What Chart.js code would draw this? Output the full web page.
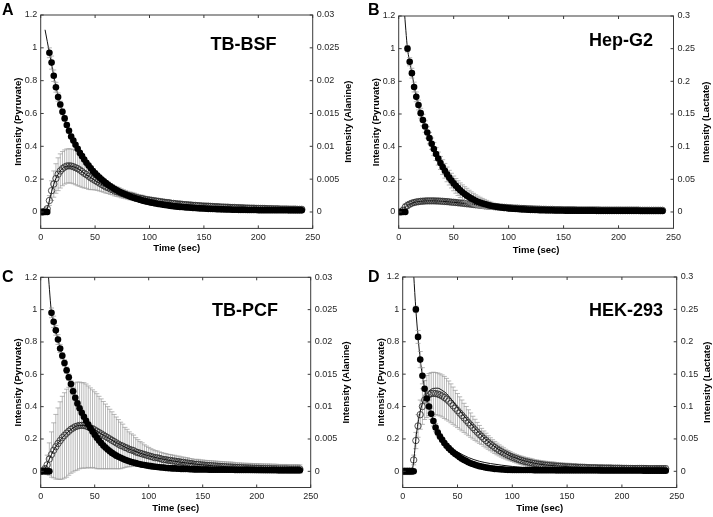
<!DOCTYPE html>
<html><head><meta charset="utf-8">
<script src="https://cdn.jsdelivr.net/npm/chart.js@4/dist/chart.umd.min.js"></script>
<style>
html,body{margin:0;padding:0;background:#fff}
body{width:713px;height:517px;position:relative;overflow:hidden;font-family:"Liberation Sans",Arial,Helvetica,sans-serif}
.pane{position:absolute}
.pane canvas{display:block}
.letter{position:absolute;font-weight:bold;font-size:16px;line-height:16px;color:#000}
</style></head>
<body>
<div class="pane" style="left:0;top:0"><canvas id="cA" width="356" height="258"></canvas></div>
<div class="pane" style="left:356px;top:0"><canvas id="cB" width="357" height="258"></canvas></div>
<div class="pane" style="left:0;top:258px"><canvas id="cC" width="356" height="259"></canvas></div>
<div class="pane" style="left:356px;top:258px"><canvas id="cD" width="357" height="259"></canvas></div>
<div class="letter" style="left:2px;top:1.5px">A</div>
<div class="letter" style="left:368px;top:1.5px">B</div>
<div class="letter" style="left:2px;top:269px">C</div>
<div class="letter" style="left:368px;top:269px">D</div>
<script>
// ---------- shared axes ----------
const TIME = [0,2,4,6,8,10,12,14,16,18,
20,22,24,26,28,30,32,34,36,38,
40,42,44,46,48,50,52,54,56,58,
60,62,64,66,68,70,72,74,76,78,
80,82,84,86,88,90,92,94,96,98,
100,102,104,106,108,110,112,114,116,118,
120,122,124,126,128,130,132,134,136,138,
140,142,144,146,148,150,152,154,156,158,
160,162,164,166,168,170,172,174,176,178,
180,182,184,186,188,190,192,194,196,198,
200,202,204,206,208,210,212,214,216,218,
220,222,224,226,228,230,232,234,236,238,
240];
const X_TICKS = [0,50,100,150,200,250];
const LEFT_TICKS = [0,0.2,0.4,0.6,0.8,1,1.2];
const RIGHT_TICKS_ALANINE = [0,0.005,0.01,0.015,0.02,0.025,0.03];
const RIGHT_TICKS_LACTATE = [0,0.05,0.1,0.15,0.2,0.25,0.3];

// ---------- A: TB-BSF ----------
const A_PYRUVATE = [0,0,0,0,0.97,0.91,0.83,0.76,0.70,0.655,
0.61,0.57,0.53,0.495,0.46,0.435,0.41,0.385,0.36,0.34,
0.32,0.30,0.283,0.266,0.25,0.236,0.222,0.21,0.198,0.187,
0.176,0.166,0.157,0.148,0.14,0.132,0.125,0.118,0.112,0.106,
0.1,0.095,0.09,0.085,0.081,0.077,0.073,0.069,0.066,0.063,
0.06,0.057,0.054,0.052,0.049,0.047,0.045,0.043,0.041,0.039,
0.037,0.035,0.034,0.032,0.031,0.03,0.029,0.028,0.027,0.026,
0.025,0.024,0.023,0.022,0.021,0.021,0.02,0.019,0.019,0.018,
0.018,0.017,0.017,0.016,0.016,0.015,0.015,0.015,0.014,0.014,
0.014,0.013,0.013,0.013,0.013,0.012,0.012,0.012,0.012,0.012,
0.011,0.011,0.011,0.011,0.011,0.011,0.011,0.011,0.011,0.011,
0.011,0.011,0.011,0.011,0.01,0.01,0.01,0.01,0.01,0.01,
0.01];
const A_PYRUVATE_ERR = [0.005,0.005,0.005,0.005,0.03,0.04,0.035,0.03,0.025,0.02,
0.018,0.016,0.015,0.015,0.014,0.013,0.012,0.012,0.011,0.011,
0.01,0.01,0.01,0.01,0.01,0.01,0.01,0.01,0.01,0.01,
0.009,0.009,0.009,0.009,0.009,0.009,0.009,0.009,0.009,0.009,
0.008,0.008,0.008,0.008,0.008,0.008,0.008,0.008,0.008,0.008,
0.007,0.007,0.007,0.007,0.007,0.007,0.007,0.007,0.007,0.007,
0.006,0.006,0.006,0.006,0.006,0.006,0.006,0.006,0.006,0.006,
0.005,0.005,0.005,0.005,0.005,0.005,0.005,0.005,0.005,0.005,
0.005,0.005,0.005,0.005,0.005,0.005,0.005,0.005,0.005,0.005,
0.005,0.005,0.005,0.005,0.005,0.005,0.005,0.005,0.005,0.005,
0.005,0.005,0.005,0.005,0.005,0.005,0.005,0.005,0.005,0.005,
0.005,0.005,0.005,0.005,0.005,0.005,0.005,0.005,0.005,0.005,
0.005];
const A_ALANINE = [0,0,0.00013,0.0005,0.00175,0.00325,0.00425,0.0051,0.00575,0.00625,
0.0066,0.00685,0.007,0.00703,0.007,0.0069,0.00675,0.0066,0.0064,0.00615,
0.0059,0.0057,0.00545,0.0052,0.005,0.0048,0.0046,0.0044,0.0042,0.004,
0.0038,0.0037,0.0035,0.0034,0.0032,0.0031,0.003,0.00285,0.00275,0.00265,
0.00255,0.00245,0.0024,0.0023,0.0022,0.0021,0.00205,0.002,0.0019,0.00185,
0.0018,0.00175,0.0017,0.00165,0.0016,0.00155,0.0015,0.00145,0.0014,0.0014,
0.0013,0.0013,0.00125,0.0012,0.0012,0.00115,0.0011,0.0011,0.00105,0.00105,
0.001,0.001,0.00095,0.00095,0.0009,0.0009,0.00088,0.00088,0.00085,0.00083,
0.0008,0.0008,0.00078,0.00075,0.00075,0.00073,0.00073,0.0007,0.00068,0.00068,
0.00065,0.00065,0.00063,0.00063,0.0006,0.0006,0.00058,0.00058,0.00058,0.00055,
0.00055,0.00053,0.00053,0.00053,0.0005,0.0005,0.0005,0.00048,0.00048,0.00048,
0.00045,0.00045,0.00045,0.00045,0.00043,0.00043,0.00043,0.00043,0.0004,0.0004,
0.0004];
const A_ALANINE_ERR = [0.00013,0.00013,0.00013,0.00025,0.00075,0.0015,0.002,0.00225,0.0025,0.0026,
0.0026,0.0026,0.0026,0.0026,0.0026,0.0026,0.0026,0.0026,0.0025,0.0024,
0.00225,0.0021,0.002,0.0018,0.0016,0.00145,0.0013,0.0012,0.0011,0.001,
0.00093,0.00088,0.00083,0.00078,0.00075,0.00073,0.0007,0.00068,0.00065,0.00063,
0.0006,0.0006,0.00058,0.00058,0.00055,0.00055,0.00053,0.00053,0.0005,0.0005,
0.00048,0.00048,0.00048,0.00048,0.00048,0.00048,0.00048,0.00048,0.00048,0.00048,
0.00045,0.00045,0.00045,0.00045,0.00045,0.00045,0.00045,0.00045,0.00045,0.00045,
0.00043,0.00043,0.00043,0.00043,0.00043,0.00043,0.00043,0.00043,0.00043,0.00043,
0.0004,0.0004,0.0004,0.0004,0.0004,0.0004,0.0004,0.0004,0.0004,0.0004,
0.0004,0.0004,0.0004,0.0004,0.0004,0.0004,0.0004,0.0004,0.0004,0.0004,
0.00038,0.00038,0.00038,0.00038,0.00038,0.00038,0.00038,0.00038,0.00038,0.00038,
0.00038,0.00038,0.00038,0.00038,0.00038,0.00038,0.00038,0.00038,0.00038,0.00038,
0.00035];
const A_FIT_PYRUVATE_T = [4,6,8,10,12,14,16,20,24,30,40,50,60,80,100,130,170,240];
const A_FIT_PYRUVATE = [1.11,1.04,0.97,0.9,0.83,0.765,0.705,0.61,0.53,0.435,0.32,0.236,0.176,0.1,0.06,0.03,0.015,0.01];
const A_FIT_ALANINE_T = [0,4,6,8,10,12,14,18,22,26,30,36,40,50,60,80,100,140,180,240];
const A_FIT_ALANINE = [0,0,0.0005,0.00175,0.0031,0.0042,0.0051,0.00625,0.00685,0.007,0.0069,0.0064,0.0059,0.0048,0.0038,0.00255,0.0018,0.001,0.00065,0.0004];

// ---------- B: Hep-G2 ----------
const B_PYRUVATE = [0,0,0,0,1.0,0.92,0.85,0.765,0.705,0.655,
0.605,0.563,0.523,0.487,0.452,0.418,0.385,0.355,0.327,0.30,
0.275,0.252,0.23,0.21,0.192,0.175,0.16,0.146,0.133,0.121,
0.11,0.1,0.091,0.083,0.076,0.069,0.063,0.058,0.053,0.049,
0.045,0.041,0.038,0.035,0.033,0.031,0.029,0.027,0.025,0.024,
0.022,0.021,0.02,0.019,0.018,0.017,0.016,0.015,0.015,0.014,
0.013,0.013,0.012,0.012,0.011,0.011,0.011,0.01,0.01,0.01,
0.01,0.009,0.009,0.009,0.009,0.009,0.008,0.008,0.008,0.008,
0.008,0.008,0.008,0.008,0.008,0.008,0.008,0.008,0.008,0.008,
0.007,0.007,0.007,0.007,0.007,0.007,0.007,0.007,0.007,0.007,
0.007,0.007,0.007,0.007,0.007,0.007,0.007,0.007,0.007,0.007,
0.006,0.006,0.006,0.006,0.006,0.006,0.006,0.006,0.006,0.006,
0.006];
const B_PYRUVATE_ERR = [0.005,0.005,0.005,0.005,0.02,0.025,0.03,0.03,0.03,0.03,
0.03,0.035,0.035,0.035,0.035,0.035,0.04,0.04,0.04,0.04,
0.045,0.045,0.045,0.045,0.045,0.045,0.045,0.045,0.045,0.045,
0.045,0.045,0.042,0.04,0.038,0.036,0.034,0.032,0.03,0.028,
0.026,0.024,0.022,0.02,0.018,0.016,0.014,0.012,0.011,0.01,
0.009,0.008,0.007,0.006,0.006,0.005,0.005,0.005,0.005,0.005,
0.004,0.004,0.004,0.004,0.004,0.004,0.004,0.004,0.004,0.004,
0.004,0.004,0.004,0.004,0.004,0.004,0.004,0.004,0.004,0.004,
0.004,0.004,0.004,0.004,0.004,0.004,0.004,0.004,0.004,0.004,
0.004,0.004,0.004,0.004,0.004,0.004,0.004,0.004,0.004,0.004,
0.004,0.004,0.004,0.004,0.004,0.004,0.004,0.004,0.004,0.004,
0.004,0.004,0.004,0.004,0.004,0.004,0.004,0.004,0.004,0.004,
0.004];
const B_LACTATE = [0,0,0.0025,0.0075,0.01,0.012,0.0135,0.0145,0.0153,0.0158,
0.0163,0.0165,0.0168,0.017,0.017,0.017,0.017,0.0168,0.0168,0.0165,
0.0163,0.016,0.0158,0.0155,0.015,0.0148,0.0145,0.014,0.0138,0.0133,
0.013,0.0125,0.0123,0.0118,0.0115,0.011,0.0108,0.0103,0.01,0.0095,
0.0093,0.009,0.0085,0.0083,0.008,0.0078,0.0075,0.0073,0.007,0.0068,
0.0065,0.0063,0.006,0.0058,0.0058,0.0055,0.0053,0.0053,0.005,0.0048,
0.0048,0.0045,0.0045,0.0043,0.0043,0.004,0.004,0.004,0.0038,0.0038,
0.0038,0.0035,0.0035,0.0035,0.0035,0.0033,0.0033,0.0033,0.0033,0.0033,
0.0033,0.003,0.003,0.003,0.003,0.003,0.003,0.003,0.003,0.003,
0.003,0.003,0.0028,0.0028,0.0028,0.0028,0.0028,0.0028,0.0028,0.0028,
0.0028,0.0028,0.0028,0.0028,0.0028,0.0028,0.0028,0.0028,0.0028,0.0028,
0.0025,0.0025,0.0025,0.0025,0.0025,0.0025,0.0025,0.0025,0.0025,0.0025,
0.0025];
const B_LACTATE_ERR = [0.0025,0.0025,0.005,0.005,0.005,0.004,0.003,0.003,0.003,0.003,
0.003,0.003,0.003,0.003,0.003,0.003,0.003,0.003,0.003,0.003,
0.0025,0.0025,0.0025,0.0025,0.0025,0.0025,0.0025,0.0025,0.0025,0.0025,
0.0025,0.0025,0.0025,0.0025,0.0025,0.0025,0.0025,0.0025,0.0025,0.0025,
0.0025,0.0025,0.0025,0.0025,0.0025,0.0025,0.0025,0.0025,0.0025,0.0025,
0.002,0.002,0.002,0.002,0.002,0.002,0.002,0.002,0.002,0.002,
0.002,0.002,0.002,0.002,0.002,0.002,0.002,0.002,0.002,0.002,
0.002,0.002,0.002,0.002,0.002,0.002,0.002,0.002,0.002,0.002,
0.002,0.002,0.002,0.002,0.002,0.002,0.002,0.002,0.002,0.002,
0.002,0.002,0.002,0.002,0.002,0.002,0.002,0.002,0.002,0.002,
0.002,0.002,0.002,0.002,0.002,0.002,0.002,0.002,0.002,0.002,
0.002,0.002,0.002,0.002,0.002,0.002,0.002,0.002,0.002,0.002,
0.002];
const B_FIT_PYRUVATE_T = [5,8,10,12,16,20,24,30,40,50,60,70,80,100,130,180,240];
const B_FIT_PYRUVATE = [1.24,1.0,0.92,0.85,0.705,0.605,0.523,0.418,0.275,0.175,0.11,0.069,0.045,0.022,0.011,0.008,0.006];
const B_FIT_LACTATE_T = [0,4,6,8,12,16,20,26,32,40,50,60,80,100,130,180,240];
const B_FIT_LACTATE = [0,0.0025,0.0075,0.01,0.0135,0.0153,0.0163,0.017,0.017,0.0163,0.0148,0.013,0.0093,0.0065,0.004,0.003,0.0025];

// ---------- C: TB-PCF ----------
const C_PYRUVATE = [0,0,0,0,0,0.98,0.925,0.872,0.815,0.76,
0.715,0.67,0.625,0.582,0.54,0.495,0.455,0.42,0.39,0.362,
0.337,0.313,0.29,0.268,0.247,0.227,0.208,0.19,0.175,0.16,
0.147,0.135,0.124,0.114,0.105,0.097,0.09,0.084,0.078,0.072,
0.067,0.062,0.058,0.054,0.051,0.047,0.044,0.041,0.039,0.036,
0.034,0.032,0.03,0.028,0.027,0.025,0.024,0.023,0.021,0.02,
0.019,0.018,0.018,0.017,0.016,0.015,0.015,0.014,0.014,0.013,
0.013,0.012,0.012,0.012,0.011,0.011,0.011,0.011,0.01,0.01,
0.01,0.01,0.01,0.01,0.01,0.01,0.01,0.01,0.01,0.01,
0.009,0.009,0.009,0.009,0.009,0.009,0.009,0.009,0.009,0.009,
0.008,0.008,0.008,0.008,0.008,0.008,0.008,0.008,0.008,0.008,
0.007,0.007,0.007,0.007,0.007,0.007,0.007,0.007,0.007,0.007,
0.007];
const C_PYRUVATE_ERR = [0.005,0.005,0.005,0.005,0.005,0.03,0.035,0.03,0.03,0.025,
0.02,0.02,0.02,0.02,0.02,0.02,0.015,0.015,0.015,0.015,
0.015,0.015,0.015,0.015,0.015,0.015,0.015,0.015,0.015,0.015,
0.015,0.012,0.012,0.012,0.012,0.012,0.012,0.012,0.012,0.012,
0.01,0.01,0.01,0.01,0.01,0.01,0.01,0.01,0.01,0.01,
0.01,0.008,0.008,0.008,0.008,0.008,0.008,0.008,0.008,0.008,
0.006,0.006,0.006,0.006,0.006,0.006,0.006,0.006,0.006,0.006,
0.006,0.006,0.006,0.006,0.006,0.006,0.006,0.006,0.006,0.006,
0.006,0.006,0.006,0.006,0.006,0.006,0.006,0.006,0.006,0.006,
0.006,0.006,0.006,0.006,0.006,0.006,0.006,0.006,0.006,0.006,
0.006,0.006,0.006,0.006,0.006,0.006,0.006,0.006,0.006,0.006,
0.006,0.006,0.006,0.006,0.006,0.006,0.006,0.006,0.006,0.006,
0.006];
const C_ALANINE = [0,0.00013,0.00038,0.001,0.0019,0.0026,0.00325,0.0038,0.0043,0.00475,
0.0052,0.00555,0.0059,0.0062,0.0065,0.0067,0.0069,0.007,0.0071,0.0071,
0.0071,0.007,0.0069,0.0067,0.0066,0.0064,0.0062,0.006,0.0058,0.0056,
0.0054,0.0052,0.005,0.0048,0.0046,0.0044,0.0042,0.004,0.0039,0.0037,
0.0036,0.0034,0.0033,0.0032,0.003,0.0029,0.0028,0.0027,0.0026,0.0025,
0.0024,0.0023,0.0022,0.0021,0.0021,0.002,0.0019,0.0018,0.0018,0.0017,
0.0017,0.0016,0.0016,0.0015,0.0015,0.0014,0.0014,0.0013,0.0013,0.0012,
0.0012,0.0011,0.0011,0.0011,0.001,0.001,0.00095,0.00093,0.0009,0.00088,
0.00085,0.00083,0.0008,0.00078,0.00075,0.00073,0.0007,0.00068,0.00068,0.00065,
0.00063,0.0006,0.0006,0.00058,0.00055,0.00055,0.00053,0.00053,0.0005,0.0005,
0.00048,0.00048,0.00045,0.00045,0.00043,0.00043,0.00043,0.0004,0.0004,0.0004,
0.00038,0.00038,0.00038,0.00038,0.00038,0.00035,0.00035,0.00035,0.00035,0.00035,
0.00035];
const C_ALANINE_ERR = [0.00025,0.00025,0.0005,0.0015,0.0025,0.0035,0.00425,0.005,0.0055,0.006,
0.0064,0.0066,0.0068,0.0068,0.0068,0.0068,0.0068,0.0068,0.0067,0.0066,
0.0066,0.0065,0.0063,0.0062,0.006,0.0059,0.0058,0.0056,0.0054,0.0052,
0.005,0.0048,0.0046,0.0044,0.0042,0.004,0.0038,0.0036,0.0034,0.0031,
0.0029,0.0027,0.0025,0.0024,0.0022,0.002,0.0018,0.0017,0.0015,0.0014,
0.0013,0.0012,0.00115,0.0011,0.00105,0.001,0.001,0.001,0.00095,0.00093,
0.0009,0.0009,0.00088,0.00085,0.00085,0.00083,0.0008,0.0008,0.0008,0.00078,
0.00075,0.00075,0.00075,0.00075,0.00075,0.00075,0.00075,0.00075,0.00075,0.00075,
0.00075,0.00075,0.00075,0.00075,0.00075,0.00075,0.00075,0.00075,0.00075,0.00075,
0.0007,0.0007,0.0007,0.0007,0.0007,0.0007,0.0007,0.0007,0.0007,0.0007,
0.0007,0.0007,0.0007,0.0007,0.0007,0.0007,0.0007,0.0007,0.0007,0.0007,
0.00068,0.00068,0.00068,0.00068,0.00068,0.00068,0.00068,0.00068,0.00068,0.00068,
0.00065];
const C_FIT_PYRUVATE_T = [7,10,12,16,20,24,30,36,40,50,60,70,80,100,120,160,240];
const C_FIT_PYRUVATE = [1.22,0.98,0.925,0.815,0.715,0.625,0.495,0.39,0.337,0.227,0.147,0.097,0.067,0.034,0.019,0.01,0.007];
const C_FIT_ALANINE_T = [0,4,8,12,16,20,24,30,36,40,50,60,80,100,130,160,200,240];
const C_FIT_ALANINE = [0,0.00038,0.0019,0.00325,0.0043,0.0052,0.0059,0.0067,0.0071,0.0071,0.0064,0.0054,0.0036,0.0024,0.0014,0.00085,0.00048,0.00035];

// ---------- D: HEK-293 ----------
const D_PYRUVATE = [0,0,0,0,0,0,1.0,0.83,0.69,0.59,
0.51,0.45,0.4,0.355,0.31,0.27,0.24,0.215,0.195,0.175,
0.158,0.143,0.13,0.118,0.107,0.097,0.087,0.078,0.07,0.063,
0.056,0.05,0.045,0.04,0.036,0.032,0.029,0.026,0.023,0.021,
0.019,0.017,0.015,0.014,0.013,0.012,0.011,0.01,0.009,0.009,
0.008,0.008,0.008,0.008,0.008,0.008,0.008,0.008,0.008,0.008,
0.007,0.007,0.007,0.007,0.007,0.007,0.007,0.007,0.007,0.007,
0.006,0.006,0.006,0.006,0.006,0.006,0.006,0.006,0.006,0.006,
0.006,0.006,0.006,0.006,0.006,0.006,0.006,0.006,0.006,0.006,
0.005,0.005,0.005,0.005,0.005,0.005,0.005,0.005,0.005,0.005,
0.005,0.005,0.005,0.005,0.005,0.005,0.005,0.005,0.005,0.005,
0.004,0.004,0.004,0.004,0.004,0.004,0.004,0.004,0.004,0.004,
0.004];
const D_PYRUVATE_ERR = [0.005,0.005,0.005,0.005,0.005,0.005,0.02,0.04,0.05,0.05,
0.05,0.045,0.04,0.035,0.03,0.025,0.02,0.018,0.015,0.013,
0.01,0.01,0.01,0.01,0.01,0.01,0.01,0.01,0.01,0.01,
0.01,0.01,0.01,0.01,0.01,0.01,0.008,0.008,0.008,0.008,
0.008,0.008,0.008,0.008,0.008,0.008,0.008,0.008,0.008,0.008,
0.005,0.005,0.005,0.005,0.005,0.005,0.005,0.005,0.005,0.005,
0.005,0.005,0.005,0.005,0.005,0.005,0.005,0.005,0.005,0.005,
0.005,0.005,0.005,0.005,0.005,0.005,0.005,0.005,0.005,0.005,
0.005,0.005,0.005,0.005,0.005,0.005,0.005,0.005,0.005,0.005,
0.005,0.005,0.005,0.005,0.005,0.005,0.005,0.005,0.005,0.005,
0.005,0.005,0.005,0.005,0.005,0.005,0.005,0.005,0.005,0.005,
0.005,0.005,0.005,0.005,0.005,0.005,0.005,0.005,0.005,0.005,
0.005];
const D_LACTATE = [0,0,0,0,0,0.0175,0.0475,0.07,0.0875,0.1,
0.11,0.1155,0.1185,0.12,0.1205,0.12,0.1193,0.118,0.1163,0.114,
0.1115,0.1085,0.105,0.1013,0.0975,0.0938,0.09,0.0863,0.0825,0.0788,
0.075,0.0713,0.0675,0.064,0.0605,0.057,0.0538,0.0505,0.0475,0.0445,
0.0418,0.0393,0.0368,0.0345,0.0323,0.0303,0.0283,0.0265,0.0248,0.0233,
0.0218,0.0205,0.0193,0.018,0.017,0.016,0.015,0.0143,0.0135,0.0128,
0.012,0.0115,0.011,0.0105,0.01,0.0095,0.0093,0.0088,0.0085,0.0083,
0.008,0.0078,0.0075,0.0073,0.007,0.0068,0.0068,0.0065,0.0063,0.0063,
0.006,0.006,0.0058,0.0058,0.0055,0.0055,0.0053,0.0053,0.0053,0.005,
0.005,0.005,0.0048,0.0048,0.0048,0.0048,0.0045,0.0045,0.0045,0.0045,
0.0045,0.0045,0.0045,0.0043,0.0043,0.0043,0.0043,0.0043,0.0043,0.0043,
0.0043,0.0043,0.004,0.004,0.004,0.004,0.004,0.004,0.004,0.004,
0.004];
const D_LACTATE_ERR = [0.005,0.005,0.005,0.005,0.005,0.0075,0.0125,0.0175,0.0225,0.0275,
0.03,0.0325,0.0325,0.0325,0.0325,0.0325,0.0325,0.0325,0.0325,0.0325,
0.032,0.031,0.03,0.0288,0.0275,0.0263,0.025,0.0238,0.0225,0.0213,
0.02,0.0188,0.0175,0.0163,0.015,0.0138,0.0125,0.0118,0.0113,0.0105,
0.01,0.0095,0.0093,0.009,0.0085,0.0083,0.008,0.0075,0.0073,0.007,
0.0065,0.0065,0.0065,0.0065,0.0065,0.0065,0.0065,0.0065,0.0065,0.0065,
0.006,0.006,0.006,0.006,0.006,0.006,0.006,0.006,0.006,0.006,
0.0055,0.0055,0.0055,0.0055,0.0055,0.0055,0.0055,0.0055,0.0055,0.0055,
0.005,0.005,0.005,0.005,0.005,0.005,0.005,0.005,0.005,0.005,
0.005,0.005,0.005,0.005,0.005,0.005,0.005,0.005,0.005,0.005,
0.0045,0.0045,0.0045,0.0045,0.0045,0.0045,0.0045,0.0045,0.0045,0.0045,
0.0045,0.0045,0.0045,0.0045,0.0045,0.0045,0.0045,0.0045,0.0045,0.0045,
0.0045];
const D_FIT_PYRUVATE_T = [9,10,12,14,16,18,20,24,28,34,40,50,60,70,80,100,125,160,240];
const D_FIT_PYRUVATE = [1.35,1.22,1.0,0.83,0.69,0.59,0.51,0.4,0.32,0.23,0.165,0.12,0.085,0.062,0.048,0.03,0.015,0.006,0.002];
const D_FIT_LACTATE_T = [0,8,10,12,14,16,18,20,24,28,32,36,40,46,52,60,70,80,90,100,120,140,170,200,240];
const D_FIT_LACTATE = [0,0,0.015,0.05,0.075,0.0925,0.105,0.1138,0.1238,0.128,0.1283,0.125,0.12,0.1075,0.0938,0.0775,0.0588,0.043,0.0313,0.0225,0.0125,0.0083,0.0058,0.005,0.0043];

// ---------- plugins ----------
const errorBars = {
  id: 'errorBars',
  beforeDatasetDraw(chart, args) {
    const ds = chart.data.datasets[args.index];
    if (!ds.errors) return;
    const ctx = chart.ctx, ca = chart.chartArea;
    const xs = chart.scales.x, ys = chart.scales[ds.yAxisID];
    ctx.save();
    ctx.beginPath(); ctx.rect(ca.left, ca.top, ca.right - ca.left, ca.bottom - ca.top); ctx.clip();
    ctx.strokeStyle = '#9a9a9a'; ctx.lineWidth = 0.7;
    ctx.beginPath();
    ds.data.forEach((p, i) => {
      const e = ds.errors[i];
      const x = xs.getPixelForValue(p.x);
      const y1 = ys.getPixelForValue(p.y - e), y2 = ys.getPixelForValue(p.y + e);
      ctx.moveTo(x, y1); ctx.lineTo(x, y2);
      ctx.moveTo(x - 2.5, y1); ctx.lineTo(x + 2.5, y1);
      ctx.moveTo(x - 2.5, y2); ctx.lineTo(x + 2.5, y2);
    });
    ctx.stroke();
    ctx.restore();
  }
};
const frame = {
  id: 'frame',
  afterDraw(chart, args, o) {
    const {ctx, chartArea: ca, scales} = chart;
    ctx.save();
    ctx.strokeStyle = '#3a3a3a'; ctx.lineWidth = 1;
    ctx.strokeRect(ca.left, ca.top, ca.right - ca.left, ca.bottom - ca.top);
    ctx.beginPath();
    const tl = 3;
    scales.x.ticks.forEach(t => {
      const x = scales.x.getPixelForValue(t.value);
      ctx.moveTo(x, ca.bottom); ctx.lineTo(x, ca.bottom - tl);
      ctx.moveTo(x, ca.top); ctx.lineTo(x, ca.top + tl);
    });
    scales.yL.ticks.forEach(t => {
      const y = scales.yL.getPixelForValue(t.value);
      ctx.moveTo(ca.left, y); ctx.lineTo(ca.left + tl, y);
    });
    scales.yR.ticks.forEach(t => {
      const y = scales.yR.getPixelForValue(t.value);
      ctx.moveTo(ca.right, y); ctx.lineTo(ca.right - tl, y);
    });
    ctx.stroke();
    // right axis title, reading bottom-to-top
    ctx.fillStyle = '#000';
    ctx.font = 'bold 9.5px "Liberation Sans", Arial, sans-serif';
    ctx.textAlign = 'center'; ctx.textBaseline = 'middle';
    ctx.translate(o.rtx, (ca.top + ca.bottom) / 2);
    ctx.rotate(-Math.PI / 2);
    ctx.fillText(o.rightTitle, 0, 0);
    ctx.setTransform(1, 0, 0, 1, 0, 0);
    // inset label
    ctx.font = 'bold 18px "Liberation Sans", Arial, sans-serif';
    ctx.textBaseline = 'alphabetic';
    ctx.fillText(o.label, o.lx, o.ly);
    ctx.restore();
  }
};

Chart.defaults.font.family = '"Liberation Sans", Arial, Helvetica, sans-serif';

function panel(id, o) {
  const pts = (ts, vs) => ts.map((t, i) => ({x: t, y: vs[i]}));
  const datasets = [
    {data: pts(TIME, o.pyr), errors: o.pyrErr, yAxisID: 'yL', showLine: false,
     pointRadius: 3.3, pointBackgroundColor: '#000', pointBorderColor: '#000', pointBorderWidth: 0, order: 1},
    {data: pts(o.fitPyrT, o.fitPyr), yAxisID: 'yL', showLine: true, pointRadius: 0,
     borderColor: '#111', borderWidth: 1, cubicInterpolationMode: 'monotone', order: 2},
    {data: pts(o.fitProdT, o.fitProd), yAxisID: 'yR', showLine: true, pointRadius: 0,
     borderColor: '#111', borderWidth: 1, cubicInterpolationMode: 'monotone', order: 3},
    {data: pts(TIME, o.prod), errors: o.prodErr, yAxisID: 'yR', showLine: false,
     pointRadius: 3.2, pointBackgroundColor: 'rgba(255,255,255,0)', pointBorderColor: '#2a2a2a', pointBorderWidth: 0.8, order: 4}
  ];
  const tickFont = {size: 9};
  const titleFont = {size: 9.5, weight: 'bold'};
  new Chart(document.getElementById(id), {
    type: 'scatter',
    data: {datasets},
    options: {
      responsive: false, animation: false, devicePixelRatio: 1, events: [],
      layout: {padding: {top: o.top, left: 0, right: 0, bottom: 0}},
      plugins: {legend: {display: false}, tooltip: {enabled: false},
        frame: {label: o.label, lx: o.lx, ly: o.ly, rtx: o.rtx, rightTitle: o.rightTitle}},
      scales: {
        x: {type: 'linear', position: 'bottom', min: 0, max: 250,
          afterBuildTicks: s => { s.ticks = X_TICKS.map(v => ({value: v})); },
          grid: {display: false, drawTicks: false}, border: {display: false},
          ticks: {font: tickFont, color: '#262626', padding: 4, maxRotation: 0, autoSkip: false, callback: v => String(v)},
          title: {display: true, text: 'Time (sec)', color: '#000', font: titleFont, padding: {top: 0, bottom: o.xtp}},
          afterFit: s => { s.height = o.H - o.bottom; }},
        yL: {type: 'linear', position: 'left', min: -0.1, max: 1.2,
          afterBuildTicks: s => { s.ticks = LEFT_TICKS.map(v => ({value: v})); },
          grid: {display: false, drawTicks: false}, border: {display: false},
          ticks: {font: tickFont, color: '#262626', padding: 3.5, autoSkip: false, callback: v => String(v)},
          title: {display: true, text: 'Intensity (Pyruvate)', color: '#000', font: titleFont, padding: {top: o.ltp, bottom: 0}},
          afterFit: s => { s.width = o.left; }},
        yR: {type: 'linear', position: 'right', min: o.rmin, max: o.rmax,
          afterBuildTicks: s => { s.ticks = o.rticks.map(v => ({value: v})); },
          grid: {display: false, drawTicks: false}, border: {display: false},
          ticks: {font: tickFont, color: '#262626', padding: 4, autoSkip: false, callback: v => String(v)},
          title: {display: false},
          afterFit: s => { s.width = o.W - o.right; }}
      }
    },
    plugins: [errorBars, frame]
  });
}

panel('cA', {W: 356, H: 258, left: 40.7, right: 312.7, top: 15, bottom: 228.4, ltp: 12.6, xtp: 4, rtx: 348.3,
  label: 'TB-BSF', lx: 243.5, ly: 50, rightTitle: 'Intensity (Alanine)', rmin: -0.0025, rmax: 0.03, rticks: RIGHT_TICKS_ALANINE,
  pyr: A_PYRUVATE, pyrErr: A_PYRUVATE_ERR, prod: A_ALANINE, prodErr: A_ALANINE_ERR,
  fitPyrT: A_FIT_PYRUVATE_T, fitPyr: A_FIT_PYRUVATE, fitProdT: A_FIT_ALANINE_T, fitProd: A_FIT_ALANINE});
panel('cB', {W: 357, H: 258, left: 42.7, right: 317.5, top: 16, bottom: 228.3, ltp: 14.3, xtp: 2.3, rtx: 350,
  label: 'Hep-G2', lx: 265, ly: 46, rightTitle: 'Intensity (Lactate)', rmin: -0.025, rmax: 0.3, rticks: RIGHT_TICKS_LACTATE,
  pyr: B_PYRUVATE, pyrErr: B_PYRUVATE_ERR, prod: B_LACTATE, prodErr: B_LACTATE_ERR,
  fitPyrT: B_FIT_PYRUVATE_T, fitPyr: B_FIT_PYRUVATE, fitProdT: B_FIT_LACTATE_T, fitProd: B_FIT_LACTATE});
panel('cC', {W: 356, H: 259, left: 40.7, right: 310.7, top: 19.3, bottom: 229.5, ltp: 12.6, xtp: 2.6, rtx: 346.7,
  label: 'TB-PCF', lx: 245, ly: 58, rightTitle: 'Intensity (Alanine)', rmin: -0.0025, rmax: 0.03, rticks: RIGHT_TICKS_ALANINE,
  pyr: C_PYRUVATE, pyrErr: C_PYRUVATE_ERR, prod: C_ALANINE, prodErr: C_ALANINE_ERR,
  fitPyrT: C_FIT_PYRUVATE_T, fitPyr: C_FIT_PYRUVATE, fitProdT: C_FIT_ALANINE_T, fitProd: C_FIT_ALANINE});
panel('cD', {W: 357, H: 259, left: 46.7, right: 320.7, top: 19, bottom: 229.5, ltp: 19.3, xtp: 2.6, rtx: 351,
  label: 'HEK-293', lx: 270, ly: 58, rightTitle: 'Intensity (Lactate)', rmin: -0.025, rmax: 0.3, rticks: RIGHT_TICKS_LACTATE,
  pyr: D_PYRUVATE, pyrErr: D_PYRUVATE_ERR, prod: D_LACTATE, prodErr: D_LACTATE_ERR,
  fitPyrT: D_FIT_PYRUVATE_T, fitPyr: D_FIT_PYRUVATE, fitProdT: D_FIT_LACTATE_T, fitProd: D_FIT_LACTATE});
</script>
</body></html>
